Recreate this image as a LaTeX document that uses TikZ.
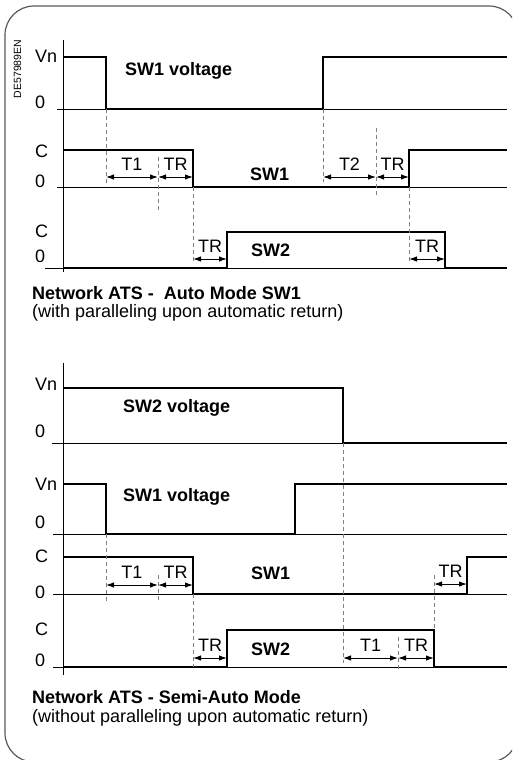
\documentclass[tikz,border=0pt]{standalone}
\usepackage{fontspec}
\setmainfont{Liberation Sans}
\usetikzlibrary{arrows.meta}

\begin{document}
\begin{tikzpicture}[x=1pt,y=-1pt,
  every node/.style={inner sep=0pt,font=\fontsize{18}{20}\selectfont},
  sig/.style={line width=2.4pt},
  baseln/.style={line width=1pt},
  guide/.style={gray,line width=0.9pt,dash pattern=on 4pt off 3pt},
  dim/.style={{Latex[length=8pt,width=5.5pt]}-{Latex[length=8pt,width=5.5pt]},line width=1pt},
  lbl/.style={anchor=base west},
  boldlbl/.style={anchor=base west,font=\fontsize{18}{20}\selectfont\bfseries}]
  \clip (0,0) rectangle (512,760);
  \draw[gray!70!black,line width=1.2pt,rounded corners=29pt] (5,6) rectangle (518,762);
  \node[rotate=90,font=\fontsize{10.5}{12}\selectfont] (code) at (17.5,69) {DE57989EN};

  % Auto Mode SW1
  \draw[baseln] (63,40) -- (63,272);
  \foreach \x/\y in {57/109,57/187,45/268}
    \draw[baseln] (\x,\y) -- (507,\y);
  \draw[sig] (63,57) -| (106,109) -| (323,57) -- (507,57);
  \draw[sig] (63,150) -| (193,187) -| (409,150) -- (507,150);
  \draw[sig] (63,268) -| (227,232) -| (445,268) -- (507,268);
  \foreach \x/\a/\b in {106/109/186,158/157/210,193/187/262,323/109/182,376/128/197,409/187/262}
    \draw[guide] (\x,\a) -- (\x,\b);
  \foreach \a/\b/\y/\t [count=\i] in {106/158/177/T1,158/193/177/TR,323/376/177/T2,376/409/177/TR,193/227/259/TR,409/445/259/TR}
    \draw[dim] (\a,\y) -- (\b,\y) node[midway,above=6pt] (ta\i) {\t};
  \foreach \y/\t [count=\i] in {63/Vn,108/0,157/C,187/0,237/C,262/0}
    \node[lbl] (ya\i) at (35,\y) {\t};
  \node[boldlbl] (sw1va) at (125,75) {SW1 voltage};
  \node[boldlbl] (sw1a) at (250,180) {SW1};
  \node[boldlbl] (sw2a) at (251,256) {SW2};
  \node[boldlbl] (titlea) at (32,299) {Network ATS -\ \ Auto Mode SW1};
  \node[lbl] (suba) at (32,317) {(with paralleling upon automatic return)};

  % Semi-Auto Mode
  \draw[baseln] (63,363) -- (63,675);
  \foreach \x/\y in {52/443,53/534,53/594,53/667}
    \draw[baseln] (\x,\y) -- (507,\y);
  \draw[sig] (63,388) -| (343,443) -- (507,443);
  \draw[sig] (63,484) -| (106,534) -| (295,484) -- (507,484);
  \draw[sig] (63,557) -| (193,594) -| (467,557) -- (507,557);
  \draw[sig] (63,667) -| (227,630) -| (434,667) -- (507,667);
  \foreach \x/\a/\b in {106/534/602,158/575/600,193/594/667,343/443/663,434/575/630,398/637/670}
    \draw[guide] (\x,\a) -- (\x,\b);
  \foreach \a/\b/\y/\t [count=\i] in {106/158/585/T1,158/193/585/TR,434/467/584/TR,193/227/658/TR,343/398/658/T1,398/434/658/TR}
    \draw[dim] (\a,\y) -- (\b,\y) node[midway,above=6pt] (tb\i) {\t};
  \foreach \y/\t [count=\i] in {390/Vn,437/0,490/Vn,528/0,562/C,598/0,635/C,666/0}
    \node[lbl] (yb\i) at (35,\y) {\t};
  \node[boldlbl] (sw2vb) at (123,412) {SW2 voltage};
  \node[boldlbl] (sw1vb) at (123,501) {SW1 voltage};
  \node[boldlbl] (sw1b) at (251,579) {SW1};
  \node[boldlbl] (sw2b) at (251,655) {SW2};
  \node[boldlbl] (titleb) at (32,703) {Network ATS - Semi-Auto Mode};
  \node[lbl] (subb) at (32,722) {(without paralleling upon automatic return)};
\end{tikzpicture}
\end{document}
